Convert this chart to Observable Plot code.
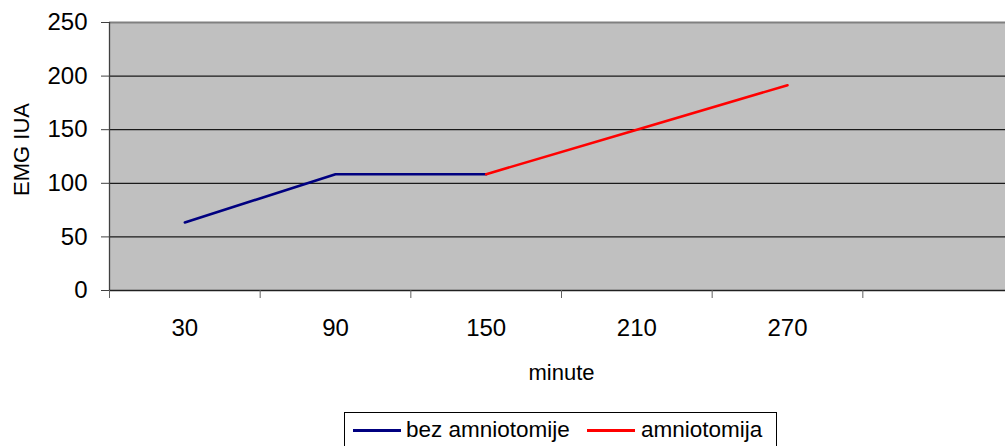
<!DOCTYPE html>
<html>
<head>
<meta charset="utf-8">
<script src="https://cdn.jsdelivr.net/npm/d3@7"></script>
<script src="https://cdn.jsdelivr.net/npm/@observablehq/plot@0.6"></script>
<style>
  html, body { margin: 0; padding: 0; background: #fff; overflow: hidden; }
  body { width: 1005px; height: 446px; position: relative; font-family: "Liberation Sans", Arial, sans-serif; }
  #chart svg { overflow: visible; }
  #legend { position: absolute; left: 344px; top: 412px; width: 433px; height: 40px; border: 1px solid #000; box-sizing: border-box; background: #fff; }
  .item { position: absolute; top: 0; height: 34px; font-size: 22.5px; line-height: 34px; color: #000; white-space: nowrap; }
  .swatch { position: absolute; top: 16px; height: 2.5px; width: 48px; }
</style>
</head>
<body>
<div id="chart"></div>
<div id="legend"></div>
<script>
// Data
const minutes = [30, 90, 150, 210, 270];
const seriesNames = ["bez amniotomije", "amniotomija"];
const bezMinutes = [30, 90, 150];
const bezValues = [63.5, 108.5, 108.5];
const amnMinutes = [150, 210, 270];
const amnValues = [108.5, 150, 191.5];
const seriesColors = ["#000080", "#ff0000"];
const yTicks = [0, 50, 100, 150, 200, 250];
const xTickBounds = [0, 60, 120, 180, 240, 300];
const gridValues = [50, 100, 150, 200];

const bez = bezMinutes.map((m, i) => ({minute: m, value: bezValues[i], series: seriesNames[0]}));
const amn = amnMinutes.map((m, i) => ({minute: m, value: amnValues[i], series: seriesNames[1]}));

const font = "Liberation Sans, Arial, sans-serif";

const chart = Plot.plot({
  width: 1005,
  height: 410,
  marginLeft: 109,
  marginRight: -8,
  marginTop: 22,
  marginBottom: 120,
  style: {fontFamily: font, fontSize: "24px", color: "#000", background: "transparent"},
  x: {domain: [0, 360], axis: null},
  y: {domain: [0, 250], axis: null},
  marks: [
    Plot.frame({fill: "#c0c0c0", stroke: null}),
    Plot.ruleY(gridValues, {stroke: "#1a1a1a", strokeWidth: 1.3}),
    Plot.ruleY([250], {stroke: "#808080", strokeWidth: 2}),
    Plot.ruleX([0], {stroke: "#404040", strokeWidth: 1.3}),
    Plot.ruleY([0], {stroke: "#202020", strokeWidth: 1.5}),
    Plot.axisY({ticks: yTicks, tickSize: 8, tickPadding: 14, fontSize: 24, stroke: "#404040", label: null, tickFormat: d => String(d)}),
    Plot.axisX({ticks: xTickBounds, tickSize: 8, stroke: "#606060", tickFormat: () => "", label: null}),
    Plot.axisX({ticks: minutes, tickSize: 0, tickPadding: 28, fontSize: 24, label: null, tickFormat: d => String(d)}),
    Plot.line(bez, {x: "minute", y: "value", stroke: seriesColors[0], strokeWidth: 2.6}),
    Plot.line(amn, {x: "minute", y: "value", stroke: seriesColors[1], strokeWidth: 2.6}),
    Plot.text(["minute"], {frameAnchor: "bottom", dy: 82, fontSize: 22, fill: "#000", lineAnchor: "middle"}),
    Plot.text(["EMG IUA"], {frameAnchor: "left", textAnchor: "middle", dx: -88, dy: -7, rotate: -90, fontSize: 22, fill: "#000", lineAnchor: "middle"})
  ]
});
document.getElementById("chart").appendChild(chart);

// Legend
const legend = document.getElementById("legend");
const legendLayout = [{sw: 8, tx: 61}, {sw: 242, tx: 296}];
seriesNames.forEach((name, i) => {
  const sw = document.createElement("div");
  sw.className = "swatch";
  sw.style.left = legendLayout[i].sw + "px";
  sw.style.background = seriesColors[i];
  legend.appendChild(sw);
  const t = document.createElement("div");
  t.className = "item";
  t.style.left = legendLayout[i].tx + "px";
  t.textContent = name;
  legend.appendChild(t);
});
</script>
</body>
</html>
